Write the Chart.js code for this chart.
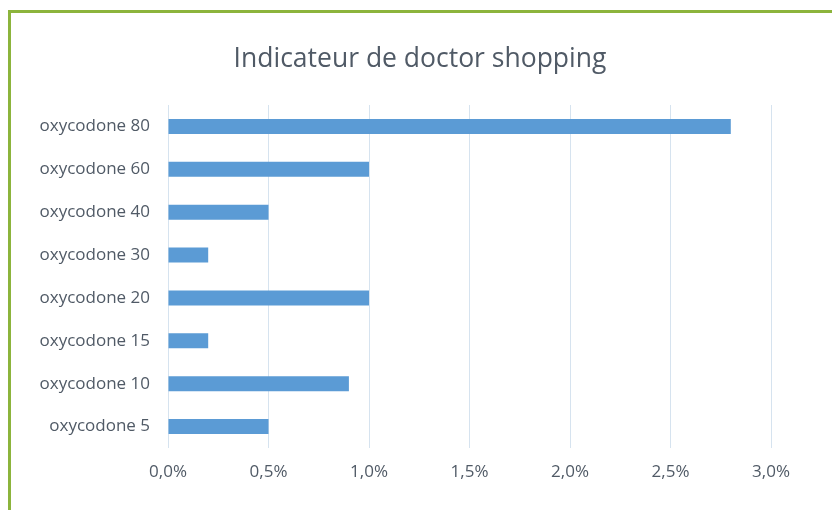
<!DOCTYPE html>
<html>
<head>
<meta charset="utf-8">
<script src="https://cdn.jsdelivr.net/npm/chart.js@4"></script>
<style>
  html, body { margin: 0; padding: 0; background: #fff; overflow: hidden; }
  #wrap { position: relative; width: 832px; height: 510px; }
  #frame {
    position: absolute; left: 8px; top: 10px; width: 900px; height: 600px;
    border-top: 3px solid #8cb43c; border-left: 3px solid #8cb43c;
    pointer-events: none;
  }
</style>
</head>
<body>
<div id="wrap">
  <canvas id="chart" width="832" height="510"></canvas>
  <div id="frame"></div>
</div>
<script>
const categories = ["oxycodone 80", "oxycodone 60", "oxycodone 40", "oxycodone 30",
  "oxycodone 20", "oxycodone 15", "oxycodone 10", "oxycodone 5"];
const shoppingRate = [2.8, 1.0, 0.5, 0.2, 1.0, 0.2, 0.9, 0.5];
const xTicks = [0, 0.5, 1.0, 1.5, 2.0, 2.5, 3.0];
const chartTitle = "Indicateur de doctor shopping";

const textColor = "#505a66";
const fontFamily = "'Open Sans', Lato, sans-serif";

// title is centred on the framed area, not on the plot, so draw it here
const titlePlugin = {
  id: "frameTitle",
  afterDraw(chart) {
    const ctx = chart.ctx;
    ctx.save();
    ctx.font = `26.5px ${fontFamily}`;
    ctx.fillStyle = textColor;
    ctx.textAlign = "center";
    ctx.textBaseline = "middle";
    ctx.fillText(chartTitle, 420, 59);
    ctx.restore();
  }
};

new Chart(document.getElementById("chart").getContext("2d"), {
  type: "bar",
  data: {
    labels: categories,
    datasets: [{
      data: shoppingRate,
      backgroundColor: "#5b9bd5",
      categoryPercentage: 1,
      barPercentage: 0.35
    }]
  },
  options: {
    indexAxis: "y",
    responsive: false,
    animation: false,
    layout: { padding: { top: 105, right: 61, bottom: 0, left: 0 } },
    plugins: {
      legend: { display: false },
      tooltip: { enabled: false },
      title: { display: false }
    },
    scales: {
      x: {
        min: 0,
        max: 3,
        afterBuildTicks: (scale) => { scale.ticks = xTicks.map((v) => ({ value: v })); },
        afterFit: (scale) => { scale.height = 62; },
        grid: { color: "#d6e3ef", drawTicks: false },
        border: { display: false },
        ticks: {
          color: textColor,
          padding: 14,
          font: { family: fontFamily, size: 17 },
          callback: (v) => v.toFixed(1).replace(".", ",") + "%"
        }
      },
      y: {
        afterFit: (scale) => { scale.width = 168; },
        grid: { display: false, drawTicks: false },
        border: { display: false },
        ticks: {
          color: textColor,
          padding: 18,
          font: { family: fontFamily, size: 17 }
        }
      }
    }
  },
  plugins: [titlePlugin]
});
</script>
</body>
</html>
